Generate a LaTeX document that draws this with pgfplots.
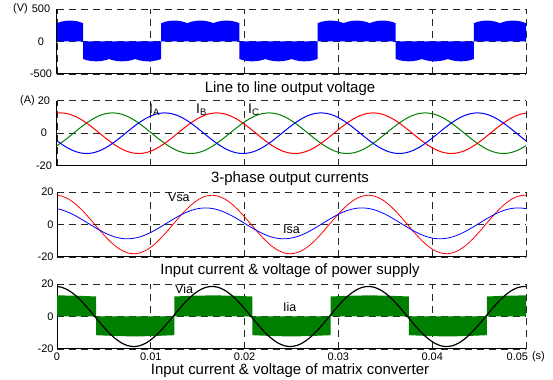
\documentclass[border=0pt]{standalone}
\usepackage{fontspec}
\setmainfont{Liberation Sans}
\usepackage{pgfplots}
\usepackage{pgfplotstable}
\pgfplotsset{compat=1.18}

% x axis in degrees of 60 Hz (1080 deg = 0.05 s)
\pgfplotstableread{
x ia ic ib
-7 12.07 -8.84 -3.24
8 12.5 -6.25 -6.25
23 12.07 -3.24 -8.84
38 10.83 0 -10.83
53 8.84 3.24 -12.07
68 6.25 6.25 -12.5
83 3.24 8.84 -12.07
98 0 10.83 -10.83
113 -3.24 12.07 -8.84
128 -6.25 12.5 -6.25
143 -8.84 12.07 -3.24
158 -10.83 10.83 0
173 -12.07 8.84 3.24
188 -12.5 6.25 6.25
203 -12.07 3.24 8.84
218 -10.83 0 10.83
233 -8.84 -3.24 12.07
248 -6.25 -6.25 12.5
263 -3.24 -8.84 12.07
278 0 -10.83 10.83
293 3.24 -12.07 8.84
308 6.25 -12.5 6.25
323 8.84 -12.07 3.24
338 10.83 -10.83 0
353 12.07 -8.84 -3.24
368 12.5 -6.25 -6.25
383 12.07 -3.24 -8.84
398 10.83 0 -10.83
413 8.84 3.24 -12.07
428 6.25 6.25 -12.5
443 3.24 8.84 -12.07
458 0 10.83 -10.83
473 -3.24 12.07 -8.84
488 -6.25 12.5 -6.25
503 -8.84 12.07 -3.24
518 -10.83 10.83 0
533 -12.07 8.84 3.24
548 -12.5 6.25 6.25
563 -12.07 3.24 8.84
578 -10.83 0 10.83
593 -8.84 -3.24 12.07
608 -6.25 -6.25 12.5
623 -3.24 -8.84 12.07
638 0 -10.83 10.83
653 3.24 -12.07 8.84
668 6.25 -12.5 6.25
683 8.84 -12.07 3.24
698 10.83 -10.83 0
713 12.07 -8.84 -3.24
728 12.5 -6.25 -6.25
743 12.07 -3.24 -8.84
758 10.83 0 -10.83
773 8.84 3.24 -12.07
788 6.25 6.25 -12.5
803 3.24 8.84 -12.07
818 0 10.83 -10.83
833 -3.24 12.07 -8.84
848 -6.25 12.5 -6.25
863 -8.84 12.07 -3.24
878 -10.83 10.83 0
893 -12.07 8.84 3.24
908 -12.5 6.25 6.25
923 -12.07 3.24 8.84
938 -10.83 0 10.83
953 -8.84 -3.24 12.07
968 -6.25 -6.25 12.5
983 -3.24 -8.84 12.07
998 0 -10.83 10.83
1013 3.24 -12.07 8.84
1028 6.25 -12.5 6.25
1043 8.84 -12.07 3.24
1058 10.83 -10.83 0
1073 12.07 -8.84 -3.24
1088 12.5 -6.25 -6.25
}\cur

\pgfplotstableread{
x vsa isa via
-18 17.39 10.2 17.87
-3 18 9.88 18.5
12 17.39 8.93 17.87
27 15.59 7.42 16.02
42 12.73 5.45 13.08
57 9 3.16 9.25
72 4.66 0.7 4.79
87 0 -1.76 0
102 -4.66 -4.05 -4.79
117 -9 -6.02 -9.25
132 -12.73 -7.53 -13.08
147 -15.59 -8.48 -16.02
162 -17.39 -8.8 -17.87
177 -18 -8.48 -18.5
192 -17.39 -7.53 -17.87
207 -15.59 -6.02 -16.02
222 -12.73 -4.05 -13.08
237 -9 -1.76 -9.25
252 -4.66 0.7 -4.79
267 0 3.16 0
282 4.66 5.45 4.79
297 9 7.42 9.25
312 12.73 8.93 13.08
327 15.59 9.88 16.02
342 17.39 10.2 17.87
357 18 9.88 18.5
372 17.39 8.93 17.87
387 15.59 7.42 16.02
402 12.73 5.45 13.08
417 9 3.16 9.25
432 4.66 0.7 4.79
447 0 -1.76 0
462 -4.66 -4.05 -4.79
477 -9 -6.02 -9.25
492 -12.73 -7.53 -13.08
507 -15.59 -8.48 -16.02
522 -17.39 -8.8 -17.87
537 -18 -8.48 -18.5
552 -17.39 -7.53 -17.87
567 -15.59 -6.02 -16.02
582 -12.73 -4.05 -13.08
597 -9 -1.76 -9.25
612 -4.66 0.7 -4.79
627 0 3.16 0
642 4.66 5.45 4.79
657 9 7.42 9.25
672 12.73 8.93 13.08
687 15.59 9.88 16.02
702 17.39 10.2 17.87
717 18 9.88 18.5
732 17.39 8.93 17.87
747 15.59 7.42 16.02
762 12.73 5.45 13.08
777 9 3.16 9.25
792 4.66 0.7 4.79
807 0 -1.76 0
822 -4.66 -4.05 -4.79
837 -9 -6.02 -9.25
852 -12.73 -7.53 -13.08
867 -15.59 -8.48 -16.02
882 -17.39 -8.8 -17.87
897 -18 -8.48 -18.5
912 -17.39 -7.53 -17.87
927 -15.59 -6.02 -16.02
942 -12.73 -4.05 -13.08
957 -9 -1.76 -9.25
972 -4.66 0.7 -4.79
987 0 3.16 0
1002 4.66 5.45 4.79
1017 9 7.42 9.25
1032 12.73 8.93 13.08
1047 15.59 9.88 16.02
1062 17.39 10.2 17.87
1077 18 9.88 18.5
1092 17.39 8.93 17.87
}\inp

\pgfplotsset{
  panel/.style={
    scale only axis, width=469bp, height=65bp, anchor=south west,
    xmin=0, xmax=1080,
    axis x line*=bottom, axis y line*=left,
    axis line style={black, line width=1bp},
    xtick={0,216,432,648,864,1080},
    xticklabels={},
    grid=major,
    major grid style={black!85, line width=0.8bp, dash pattern=on 7bp off 5bp},
    major tick length=0pt,
    tick label style={font=\fontsize{11}{13}\selectfont},
  }
}
\definecolor{pgreen}{RGB}{0,128,0}

\begin{document}
\begin{tikzpicture}
\useasboundingbox (0,0) rectangle (553bp,380bp);

% Panel 1: line to line output voltage
\begin{axis}[panel, at={(57bp,306bp)}, ymin=-500, ymax=500,
  ytick={-500,0,500}, yticklabels={-500,0,500},
  yticklabel style={anchor=center, xshift=-16bp}]
\addplot[fill=blue, draw=none] coordinates {
(0,0) (0,283) (10,305) (20,318) (30,322) (40,318) (50,305) (60,283)
(60,-270) (70,-290) (80,-302) (90,-305) (100,-302) (110,-290) (120,-270) (130,-290) (140,-302) (150,-305) (160,-302) (170,-290) (180,-270) (190,-290) (200,-302) (210,-305) (220,-302) (230,-290) (240,-270)
(240,283) (250,305) (260,318) (270,322) (280,318) (290,305) (300,283) (310,305) (320,318) (330,322) (340,318) (350,305) (360,283) (370,305) (380,318) (390,322) (400,318) (410,305) (420,283)
(420,-270) (430,-290) (440,-302) (450,-305) (460,-302) (470,-290) (480,-270) (490,-290) (500,-302) (510,-305) (520,-302) (530,-290) (540,-270) (550,-290) (560,-302) (570,-305) (580,-302) (590,-290) (600,-270)
(600,283) (610,305) (620,318) (630,322) (640,318) (650,305) (660,283) (670,305) (680,318) (690,322) (700,318) (710,305) (720,283) (730,305) (740,318) (750,322) (760,318) (770,305) (780,283)
(780,-270) (790,-290) (800,-302) (810,-305) (820,-302) (830,-290) (840,-270) (850,-290) (860,-302) (870,-305) (880,-302) (890,-290) (900,-270) (910,-290) (920,-302) (930,-305) (940,-302) (950,-290) (960,-270)
(960,283) (970,305) (980,318) (990,322) (1000,318) (1010,305) (1020,283) (1030,305) (1040,318) (1050,322) (1060,318) (1070,305) (1080,283)
(1080,0)
} -- cycle;
\end{axis}

% Panel 2: 3-phase output currents
\begin{axis}[panel, at={(57bp,214.3bp)}, ymin=-20, ymax=20,
  ytick={-20,0,20}, yticklabels={-20,0,20},
  yticklabel style={anchor=center, xshift=-13bp}]
\addplot[pgreen, line width=1bp, smooth] table[x=x, y=ic] {\cur};
\addplot[red, line width=1bp, smooth] table[x=x, y=ia] {\cur};
\addplot[blue, line width=1bp, smooth] table[x=x, y=ib] {\cur};
\end{axis}

% Panel 3: input current & voltage of power supply
\begin{axis}[panel, at={(57bp,123bp)}, ymin=-20, ymax=20,
  ytick={-20,0,20}, yticklabels={-20,0,20}]
\addplot[red, line width=0.8bp, smooth] table[x=x, y=vsa] {\inp};
\addplot[blue, line width=0.8bp, smooth] table[x=x, y=isa] {\inp};
\end{axis}

% Panel 4: input current & voltage of matrix converter
\begin{axis}[panel, at={(57bp,31bp)}, ymin=-20, ymax=20,
  ytick={-20,0,20}, yticklabels={-20,0,20},
  xticklabels={0,0.01,0.02,0.03,0.04,\makebox[4bp][r]{0.05}}]
\addplot[fill=pgreen, draw=none] coordinates {
(0,0) (0,13) (45,12.8) (90,12.3)
(90,-11.5) (135,-12) (180,-12.3) (225,-12) (270,-11.5)
(270,12.3) (315,12.8) (360,13) (405,12.8) (450,12.3)
(450,-11.5) (495,-12) (540,-12.3) (585,-12) (630,-11.5)
(630,12.3) (675,12.8) (720,13) (765,12.8) (810,12.3)
(810,-11.5) (855,-12) (900,-12.3) (945,-12) (990,-11.5)
(990,12.3) (1035,12.8) (1080,13)
(1080,0)
} -- cycle;
\addplot[black, line width=1.2bp, smooth] table[x=x, y=via] {\inp};
\end{axis}

% units
\node[font=\fontsize{11}{13}\selectfont, inner sep=0] at (20.5bp,371bp) {(V)};
\node[font=\fontsize{11}{13}\selectfont, inner sep=0] at (27.5bp,279bp) {(A)};
\node[font=\fontsize{11}{13}\selectfont, inner sep=0] at (538.4bp,23.3bp) {(s)};

% titles
\node[font=\fontsize{15}{18}\selectfont, anchor=base, inner sep=0] at (290bp,287.7bp) {Line to line output voltage};
\node[font=\fontsize{15}{18}\selectfont, anchor=base, inner sep=0] at (290bp,197bp) {3-phase output currents};
\node[font=\fontsize{15}{18}\selectfont, anchor=base, inner sep=0] at (290bp,105bp) {Input current \& voltage of power supply};
\node[font=\fontsize{15}{18}\selectfont, anchor=base, inner sep=0] at (290bp,6bp) {Input current \& voltage of matrix converter};

% curve labels
\node[font=\fontsize{14}{16}\selectfont, anchor=base west, inner sep=0] at (149bp,266bp) {I\raisebox{-1.5bp}{\fontsize{9.5}{10}\selectfont A}};
\node[font=\fontsize{14}{16}\selectfont, anchor=base west, inner sep=0] at (196bp,266bp) {I\raisebox{-1.5bp}{\fontsize{9.5}{10}\selectfont B}};
\node[font=\fontsize{14}{16}\selectfont, anchor=base west, inner sep=0] at (248bp,266bp) {I\raisebox{-1.5bp}{\fontsize{9.5}{10}\selectfont C}};
\node[font=\fontsize{12.5}{14}\selectfont, anchor=west, inner sep=0] at (168bp,182.3bp) {Vsa};
\node[font=\fontsize{12.5}{14}\selectfont, anchor=west, inner sep=0] at (283bp,151bp) {Isa};
\node[font=\fontsize{12.5}{14}\selectfont, anchor=west, inner sep=0] at (175bp,91bp) {Via};
\node[font=\fontsize{12.5}{14}\selectfont, anchor=west, inner sep=0] at (283bp,72.5bp) {Iia};
\end{tikzpicture}
\end{document}
